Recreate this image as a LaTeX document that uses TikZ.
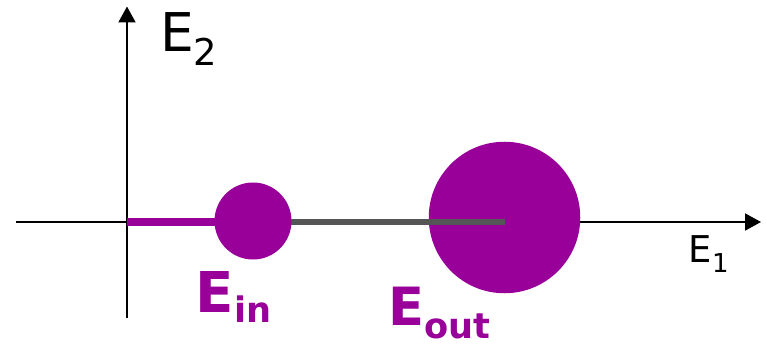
\documentclass[tikz,border=0pt]{standalone}
\usepackage{fontspec}
\setmainfont{DejaVu Sans}
\usepackage{tikz}
\usetikzlibrary{arrows.meta}
\definecolor{plum}{HTML}{990099}
\definecolor{rodgray}{HTML}{555555}
\newcommand{\lowsub}[3]{% drop, size, text
  \raisebox{-#1}{\fontsize{#2}{#2}\selectfont #3}}
\tikzset{
  axis/.style={line width=0.04cm,-{Triangle[length=0.32cm,width=0.34cm]}},
  ball/.style={circle,fill=plum,draw=none,inner sep=0},
  lab/.style={anchor=base west,inner sep=0}
}

\begin{document}
\begin{tikzpicture}
  \useasboundingbox (-2.54,-2.46) rectangle (12.8,4.44);
  \coordinate (o) at (0,0);
  \coordinate (xl) at (-2.22,0);
  \coordinate (xr) at (12.68,0);
  \coordinate (yb) at (0,-1.92);
  \coordinate (yt) at (0,4.31);
  % axes
  \draw[axis] (xl) -- (xr);
  \draw[axis] (yb) -- (yt);
  \node[lab,font=\fontsize{30.4}{30.4}\selectfont] (e2) at (0.655,3.4) {E\lowsub{7.4pt}{21}{2}};
  \node[lab,font=\fontsize{21}{21}\selectfont] (e1) at (11.23,-0.8) {E\lowsub{5.7pt}{14.8}{1}};
  % the two balls
  \node[ball,minimum size=3.03cm] (eout) at (7.55,0.09) {};
  \draw[rodgray,line width=0.12cm] (2.52,0) -- (eout.center |- o);
  \draw[plum,line width=0.15cm] (o) -- (2.52,0);
  \node[ball,minimum size=1.54cm] (ein) at (2.52,0.02) {};
  \node[lab,plum,font=\fontsize{32}{32}\selectfont\bfseries] (lin) at (1.37,-1.8) {E\lowsub{6.2pt}{20}{in}};
  \node[lab,plum,font=\fontsize{30}{30}\selectfont\bfseries] (lout) at (5.215,-2.06) {E\lowsub{7.4pt}{20}{out}};
\end{tikzpicture}
\end{document}
